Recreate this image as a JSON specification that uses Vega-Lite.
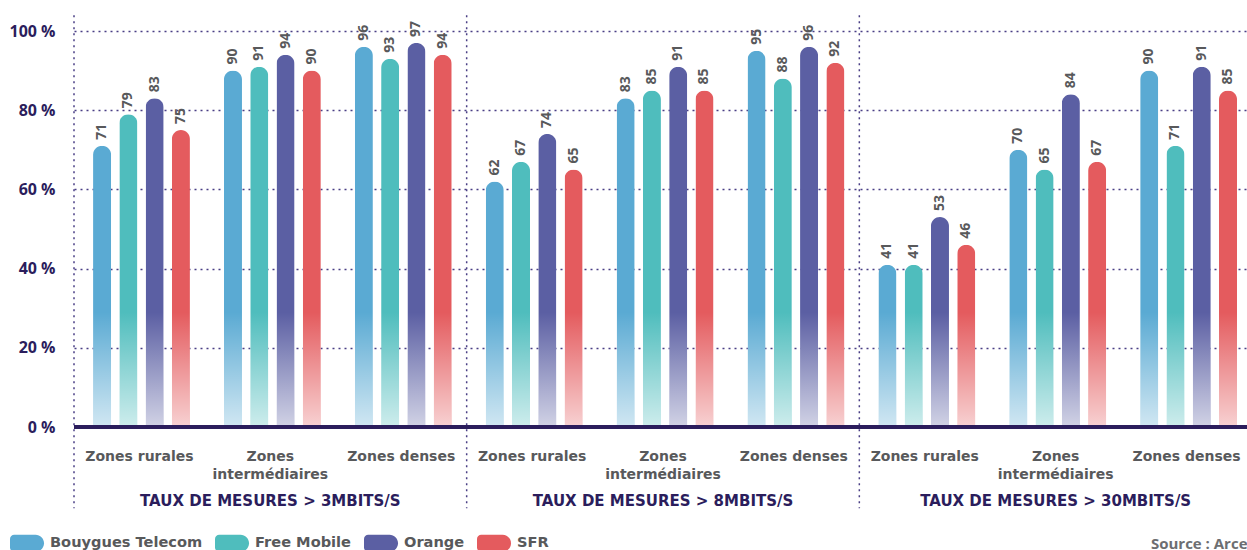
{
  "$schema": "https://vega.github.io/schema/vega-lite/v6.json",
  "width": 1173,
  "height": 396,
  "autosize": {"type": "none"},
  "padding": {"left": 74, "top": 31, "right": 0, "bottom": 123},
  "background": "white",
  "config": {"view": {"stroke": null}, "font": "Open Sans"},
  "title": {
    "text": "Source : Arcep",
    "orient": "bottom",
    "anchor": "end",
    "frame": "group",
    "font": "Open Sans",
    "fontWeight": "bold",
    "fontSize": 15,
    "color": "#6d6e71",
    "dx": 10,
    "offset": -15
  },
  "datasets": {
    "bars": [
      {"g": "3|Zones rurales", "op": "Bouygues Telecom", "v": 71},
      {"g": "3|Zones rurales", "op": "Free Mobile", "v": 79},
      {"g": "3|Zones rurales", "op": "Orange", "v": 83},
      {"g": "3|Zones rurales", "op": "SFR", "v": 75},
      {"g": "3|Zones intermédiaires", "op": "Bouygues Telecom", "v": 90},
      {"g": "3|Zones intermédiaires", "op": "Free Mobile", "v": 91},
      {"g": "3|Zones intermédiaires", "op": "Orange", "v": 94},
      {"g": "3|Zones intermédiaires", "op": "SFR", "v": 90},
      {"g": "3|Zones denses", "op": "Bouygues Telecom", "v": 96},
      {"g": "3|Zones denses", "op": "Free Mobile", "v": 93},
      {"g": "3|Zones denses", "op": "Orange", "v": 97},
      {"g": "3|Zones denses", "op": "SFR", "v": 94},
      {"g": "8|Zones rurales", "op": "Bouygues Telecom", "v": 62},
      {"g": "8|Zones rurales", "op": "Free Mobile", "v": 67},
      {"g": "8|Zones rurales", "op": "Orange", "v": 74},
      {"g": "8|Zones rurales", "op": "SFR", "v": 65},
      {"g": "8|Zones intermédiaires", "op": "Bouygues Telecom", "v": 83},
      {"g": "8|Zones intermédiaires", "op": "Free Mobile", "v": 85},
      {"g": "8|Zones intermédiaires", "op": "Orange", "v": 91},
      {"g": "8|Zones intermédiaires", "op": "SFR", "v": 85},
      {"g": "8|Zones denses", "op": "Bouygues Telecom", "v": 95},
      {"g": "8|Zones denses", "op": "Free Mobile", "v": 88},
      {"g": "8|Zones denses", "op": "Orange", "v": 96},
      {"g": "8|Zones denses", "op": "SFR", "v": 92},
      {"g": "30|Zones rurales", "op": "Bouygues Telecom", "v": 41},
      {"g": "30|Zones rurales", "op": "Free Mobile", "v": 41},
      {"g": "30|Zones rurales", "op": "Orange", "v": 53},
      {"g": "30|Zones rurales", "op": "SFR", "v": 46},
      {"g": "30|Zones intermédiaires", "op": "Bouygues Telecom", "v": 70},
      {"g": "30|Zones intermédiaires", "op": "Free Mobile", "v": 65},
      {"g": "30|Zones intermédiaires", "op": "Orange", "v": 84},
      {"g": "30|Zones intermédiaires", "op": "SFR", "v": 67},
      {"g": "30|Zones denses", "op": "Bouygues Telecom", "v": 90},
      {"g": "30|Zones denses", "op": "Free Mobile", "v": 71},
      {"g": "30|Zones denses", "op": "Orange", "v": 91},
      {"g": "30|Zones denses", "op": "SFR", "v": 85}
    ],
    "panels": [
      {"panel": "TAUX DE MESURES > 3MBITS/S"},
      {"panel": "TAUX DE MESURES > 8MBITS/S"},
      {"panel": "TAUX DE MESURES > 30MBITS/S"}
    ]
  },
  "layer": [
    {
      "data": {"name": "bars"},
      "encoding": {
        "x": {
          "field": "g",
          "type": "nominal",
          "sort": null,
          "scale": {"range": [0, 1178], "paddingInner": 0, "paddingOuter": 0},
          "axis": {
            "title": null,
            "orient": "bottom",
            "domain": false,
            "ticks": false,
            "tickSize": 0,
            "grid": false,
            "labelAngle": 0,
            "labelPadding": 29,
            "labelBaseline": "middle",
            "labelLineHeight": 18,
            "labelOverlap": false,
            "labelFont": "DejaVu Sans",
            "labelFontWeight": "bold",
            "labelFontSize": 14,
            "labelColor": "#58595b",
            "labelExpr": "indexof(datum.value, 'interm') >= 0 ? ['Zones', 'intermédiaires'] : split(datum.value, '|')[1]"
          }
        },
        "xOffset": {
          "field": "op",
          "type": "nominal",
          "sort": ["Bouygues Telecom", "Free Mobile", "Orange", "SFR"],
          "scale": {"paddingInner": 0.313, "paddingOuter": 0.647, "align": 0.56}
        }
      },
      "layer": [
        {
          "mark": {"type": "bar", "cornerRadiusTopLeft": 9, "cornerRadiusTopRight": 9},
          "encoding": {
            "y": {
              "field": "v",
              "type": "quantitative",
              "title": null,
              "scale": {"domain": [0, 100], "nice": false},
              "axis": {
                "title": null,
                "values": [0, 20, 40, 60, 80, 100],
                "labelExpr": "datum.value + ' %'",
                "domain": false,
                "ticks": false,
                "labelPadding": 19,
                "labelFont": "Open Sans",
                "labelFontWeight": "bold",
                "labelFontSize": 16,
                "labelColor": "#2b1d5c",
                "grid": true,
                "gridDash": [2, 4],
                "gridColor": "#4a3f85",
                "gridWidth": 1.5
              }
            },
            "color": {
              "field": "op",
              "type": "nominal",
              "scale": {
                "domain": ["Bouygues Telecom", "Free Mobile", "Orange", "SFR"],
                "range": ["#5aaad3", "#4fbdbd", "#5b5fa3", "#e45b5e"]
              },
              "legend": {
                "title": null,
                "orient": "none",
                "legendX": -64,
                "legendY": 495,
                "direction": "horizontal",
                "symbolType": "M -0.75,-0.5 L 0.5,-0.5 A 0.5,0.5 0 0 1 0.5,0.5 L -0.75,0.5 A 0.25,0.25 0 0 1 -1,0.25 L -1,-0.25 A 0.25,0.25 0 0 1 -0.75,-0.5 Z",
                "symbolSize": 1156,
                "symbolOpacity": 1,
                "symbolStrokeWidth": 0,
                "labelFont": "DejaVu Sans",
                "labelFontWeight": "bold",
                "labelFontSize": 14.6,
                "labelColor": "#58595b",
                "labelOffset": 6,
                "columnPadding": 12
              }
            }
          }
        },
        {
          "mark": {
            "type": "bar",
            "color": {
              "gradient": "linear",
              "x1": 0, "y1": 0, "x2": 0, "y2": 1,
              "stops": [
                {"offset": 0, "color": "rgba(255,255,255,0)"},
                {"offset": 1, "color": "rgba(255,255,255,0.72)"}
              ]
            }
          },
          "encoding": {
            "y": {"datum": 29, "type": "quantitative", "title": null, "scale": {"domain": [0, 100], "nice": false}},
            "y2": {"datum": 0}
          }
        },
        {
          "mark": {
            "type": "text",
            "angle": 270,
            "align": "left",
            "baseline": "middle",
            "dx": 6,
            "font": "Open Sans",
            "fontWeight": "bold",
            "fontSize": 14,
            "color": "#58595b"
          },
          "encoding": {
            "y": {"field": "v", "type": "quantitative", "title": null, "scale": {"domain": [0, 100], "nice": false}},
            "text": {"field": "v", "type": "quantitative"}
          }
        }
      ]
    },
    {
      "data": {"name": "panels"},
      "mark": {"type": "rule", "strokeDash": [2, 4], "strokeWidth": 1.5, "color": "#4a3f85"},
      "encoding": {
        "x": {
          "field": "panel",
          "type": "nominal",
          "sort": null,
          "bandPosition": 0,
          "scale": {"range": [0, 1178], "paddingInner": 0, "paddingOuter": 0},
          "axis": {
            "title": null,
            "orient": "bottom",
            "domain": false,
            "ticks": false,
            "tickSize": 0,
            "grid": false,
            "labelAngle": 0,
            "labelPadding": 73,
            "labelBaseline": "middle",
            "labelOverlap": false,
            "labelLimit": 400,
            "labelFont": "DejaVu Sans",
            "labelFontWeight": "bold",
            "labelFontSize": 15,
            "labelColor": "#2b1d5c"
          }
        },
        "y": {"datum": 104, "type": "quantitative", "title": null, "scale": {"domain": [0, 100], "nice": false}},
        "y2": {"datum": -20.5}
      }
    },
    {
      "data": {"values": [{}]},
      "mark": {"type": "rule", "color": "#2b1d5c", "strokeWidth": 4},
      "encoding": {
        "y": {"datum": 0, "type": "quantitative", "title": null, "scale": {"domain": [0, 100], "nice": false}}
      }
    }
  ],
  "resolve": {"scale": {"x": "independent"}}
}
